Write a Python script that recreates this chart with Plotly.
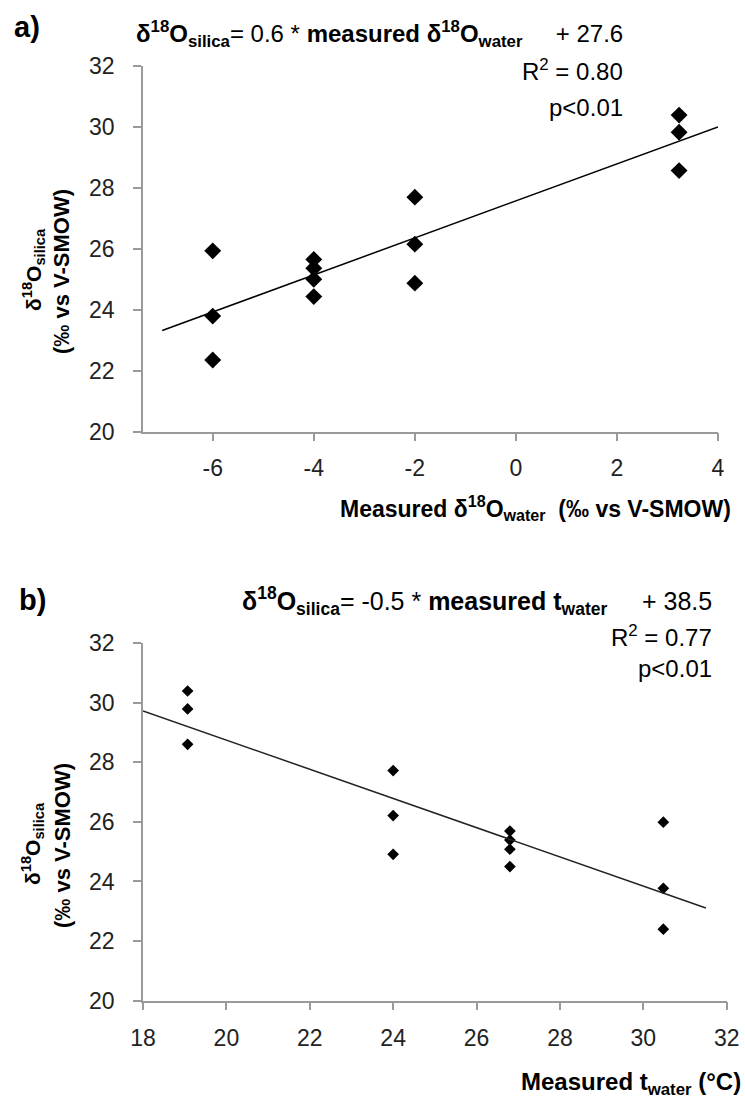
import numpy as np
import plotly.graph_objects as go

# ---- data ----
water_d18o = [-6, -6, -6, -4, -4, -4, -4, -2, -2, -2, 3.23, 3.23, 3.23]
silica_a = [25.93, 23.79, 22.35, 25.65, 25.36, 25.0, 24.43, 27.69, 26.15, 24.87, 30.38, 29.82, 28.56]

water_t = [19.07, 19.07, 19.07, 24.0, 24.0, 24.0, 26.8, 26.8, 26.8, 26.8, 30.48, 30.48, 30.48]
silica_b = [30.39, 29.79, 28.6, 27.72, 26.21, 24.91, 25.69, 25.39, 25.08, 24.5, 25.99, 23.77, 22.4]

fit_span_a = [-7, 4]
fit_span_b = [18, 31.5]

xticks_a = [-6, -4, -2, 0, 2, 4]
xticks_b = [18, 20, 22, 24, 26, 28, 30, 32]
yticks = [20, 22, 24, 26, 28, 30, 32]

W, H = 745, 1108
FONT = "Liberation Sans, Arial, sans-serif"
AXC = "#9a9a9a"


def px(x):
    return x / W


def py(y):
    return 1 - y / H


ca = np.polyfit(water_d18o, silica_a, 1)
cb = np.polyfit(water_t, silica_b, 1)

fig = go.Figure()
fig.add_trace(go.Scatter(x=water_d18o, y=silica_a, mode="markers",
                         marker=dict(symbol="diamond", size=13, color="black"),
                         xaxis="x", yaxis="y", showlegend=False))
fig.add_trace(go.Scatter(x=fit_span_a, y=list(np.polyval(ca, fit_span_a)), mode="lines",
                         line=dict(color="black", width=1.5),
                         xaxis="x", yaxis="y", showlegend=False))
fig.add_trace(go.Scatter(x=water_t, y=silica_b, mode="markers",
                         marker=dict(symbol="diamond", size=9, color="black"),
                         xaxis="x2", yaxis="y2", showlegend=False))
fig.add_trace(go.Scatter(x=fit_span_b, y=list(np.polyval(cb, fit_span_b)), mode="lines",
                         line=dict(color="#222", width=1.5),
                         xaxis="x2", yaxis="y2", showlegend=False))

axis_common = dict(showgrid=False, zeroline=False, showline=True, linecolor=AXC, linewidth=1.5,
                   ticks="outside", ticklen=8, tickcolor=AXC, tickwidth=1.5, automargin=False,
                   tickfont=dict(family=FONT, size=23, color="#222"))


def labels(vals):
    return [str(v) for v in vals]


fig.update_layout(
    width=W, height=H,
    margin=dict(l=0, r=0, t=0, b=0, autoexpand=False),
    plot_bgcolor="white", paper_bgcolor="white",
    xaxis=dict(domain=[px(143), px(718)], range=[-7.38, 4], tickvals=xticks_a,
               ticktext=labels(xticks_a), anchor="y", ticklabelstandoff=7, **axis_common),
    yaxis=dict(domain=[py(431.7), py(65.7)], range=[20, 32], tickvals=yticks,
               ticktext=labels(yticks), anchor="x", ticklabelstandoff=14, **axis_common),
    xaxis2=dict(domain=[px(143), px(726.7)], range=[18, 32], tickvals=xticks_b,
                ticktext=labels(xticks_b), anchor="y2", ticklabelstandoff=8, **axis_common),
    yaxis2=dict(domain=[py(1000.7), py(643)], range=[20, 32], tickvals=yticks,
                ticktext=labels(yticks), anchor="x2", ticklabelstandoff=14, **axis_common),
)

ann = []


def add(text, x, y, size, xanchor="center", angle=0):
    ann.append(dict(text=text, x=px(x), y=py(y), xref="paper", yref="paper",
                    xanchor=xanchor, yanchor="middle", showarrow=False, textangle=angle,
                    font=dict(family=FONT, size=size, color="black")))


GAP = "&nbsp;" * 4 + " "

# panel labels
add("<b>a)</b>", 27, 27, 29)
add("<b>b)</b>", 32, 600, 29)

# equations
add("<b>δ<sup>18</sup>O<sub>silica</sub></b>= 0.6 * <b>measured δ<sup>18</sup>O<sub>water</sub></b>" + GAP + "+ 27.6",
    625, 34, 24, xanchor="right")
add("R<sup>2</sup> = 0.80", 625, 70, 24, xanchor="right")
add("p&lt;0.01", 625, 107, 24, xanchor="right")

add("<b>δ<sup>18</sup>O<sub>silica</sub></b>= -0.5 * <b>measured t<sub>water</sub></b>" + GAP + "+ 38.5",
    714, 601, 25, xanchor="right")
add("R<sup>2</sup> = 0.77", 714, 636, 24, xanchor="right")
add("p&lt;0.01", 714, 668, 24, xanchor="right")

# y-axis titles (two lines each)
for yc in (256, 830):
    add("<b>δ<sup>18</sup>O<sub>silica</sub></b>", 33, yc + 14, 21, angle=-90)
    add("<b>(‰ vs V-SMOW)</b>", 62, yc + 16, 22, angle=-90)

# x-axis titles
add("<b>Measured δ<sup>18</sup>O<sub>water</sub>&nbsp; (‰ vs V-SMOW)</b>", 733, 508, 23, xanchor="right")
add("<b>Measured t<sub>water</sub> (°C)</b>", 743, 1083, 24, xanchor="right")

fig.update_layout(annotations=ann)
fig.write_html("out.html", config={"displayModeBar": False},
               post_script="document.body.style.margin='0';document.body.style.overflow='hidden';")
